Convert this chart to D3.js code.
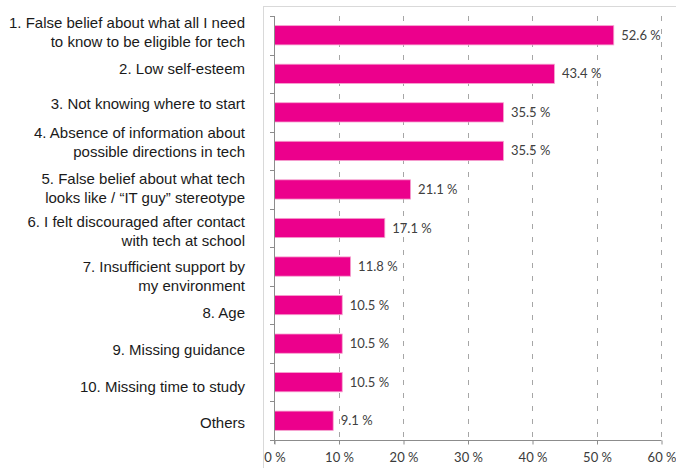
<!DOCTYPE html>
<html>
<head>
<meta charset="utf-8">
<script src="https://cdn.jsdelivr.net/npm/d3@7"></script>
<style>
  html, body { margin: 0; padding: 0; background: #fff; }
  svg { display: block; }
</style>
</head>
<body>
<svg id="chart" width="676" height="468"></svg>
<script>
// ---- data ----
const categories = [
  ["1. False belief about what all I need", "to know to be eligible for tech"],
  ["2. Low self-esteem"],
  ["3. Not knowing where to start"],
  ["4. Absence of information about", "possible directions in tech"],
  ["5. False belief about what tech", "looks like / \u201cIT guy\u201d stereotype"],
  ["6. I felt discouraged after contact", "with tech at school"],
  ["7. Insufficient support by", "my environment"],
  ["8. Age"],
  ["9. Missing guidance"],
  ["10. Missing time to study"],
  ["Others"]
];
const values = [52.6, 43.4, 35.5, 35.5, 21.1, 17.1, 11.8, 10.5, 10.5, 10.5, 9.1];
const xTicks = [0, 10, 20, 30, 40, 50, 60];
const xTickLabels = ["0 %", "10 %", "20 %", "30 %", "40 %", "50 %", "60 %"];

// ---- layout (not data) ----
const labelNudge = [-3, -5, -9, -9, -1, 3, 10, 8, 6, 4, 2];
const plotLeft = 274, plotRight = 661, plotTop = 16, plotBottom = 440;

const svg = d3.select("#chart");
const ids = categories.map((c, i) => i);

const x = d3.scaleLinear().domain([0, 60]).range([plotLeft, plotRight]);
const y = d3.scaleBand().domain(ids).range([plotTop, plotBottom]).paddingInner(0.5).paddingOuter(0.25);

// frame
svg.append("rect")
  .attr("x", 263.5).attr("y", 6.5).attr("width", 430).attr("height", 480)
  .attr("fill", "none").attr("stroke", "#d9d9d9").attr("stroke-width", 1);

// grid lines
svg.append("g").selectAll("line")
  .data(xTicks.filter(t => t > 0))
  .join("line")
  .attr("x1", d => Math.round(x(d)) + 0.5).attr("x2", d => Math.round(x(d)) + 0.5)
  .attr("y1", plotTop).attr("y2", plotBottom)
  .attr("stroke", "#a6a6a6").attr("stroke-width", 1)
  .attr("stroke-dasharray", "5,8");

// bars
svg.append("g").selectAll("rect")
  .data(values)
  .join("rect")
  .attr("x", x(0) + 0.5)
  .attr("y", (d, i) => y(i))
  .attr("width", d => x(d) - x(0))
  .attr("height", y.bandwidth())
  .attr("fill", "#EC008C")
  .attr("stroke", "#f5a3cf").attr("stroke-width", 0.8);

// value labels
svg.append("g").selectAll("text")
  .data(values)
  .join("text")
  .attr("x", d => x(d) + 8)
  .attr("y", (d, i) => y(i) + y.bandwidth() / 2)
  .attr("dy", "0.35em")
  .attr("font-family", "Lato, 'Open Sans', sans-serif")
  .attr("font-size", 13)
  .attr("fill", "#404040")
  .text(d => d.toFixed(1) + " %");

// y axis line and ticks
const axisColor = "#8c8c8c";
svg.append("line")
  .attr("x1", plotLeft + 0.5).attr("x2", plotLeft + 0.5)
  .attr("y1", plotTop).attr("y2", plotBottom + 4)
  .attr("stroke", axisColor).attr("stroke-width", 1);
svg.append("g").selectAll("line")
  .data(d3.range(categories.length + 1))
  .join("line")
  .attr("x1", plotLeft - 4).attr("x2", plotLeft + 0.5)
  .attr("y1", i => Math.round(plotTop + i * (plotBottom - plotTop) / categories.length) + 0.5)
  .attr("y2", i => Math.round(plotTop + i * (plotBottom - plotTop) / categories.length) + 0.5)
  .attr("stroke", axisColor).attr("stroke-width", 1);

// x axis
const xAxis = d3.axisBottom(x)
  .tickValues(xTicks)
  .tickFormat((d, i) => xTickLabels[i])
  .tickSize(4)
  .tickSizeOuter(0)
  .tickPadding(8);
const gx = svg.append("g")
  .attr("transform", `translate(0.5,${plotBottom + 0.5})`)
  .call(xAxis);
gx.select(".domain").attr("stroke", axisColor).attr("d", `M${plotLeft - 0.5},0H${plotRight}`);
gx.selectAll(".tick line").attr("stroke", axisColor);
gx.selectAll(".tick text")
  .attr("font-family", "Lato, 'Open Sans', sans-serif")
  .attr("font-size", 13)
  .attr("fill", "#3b3b3b");

// category labels
const lineH = 19;
const lab = svg.append("g").selectAll("text")
  .data(categories)
  .join("text")
  .attr("text-anchor", "end")
  .attr("font-family", "'Liberation Sans', Arial, sans-serif")
  .attr("font-size", 15)
  .attr("fill", "#1a1a1a")
  .attr("transform", (d, i) => `translate(245,${y(i) + y.bandwidth() / 2 + labelNudge[i]})`);
lab.each(function(lines) {
  const t = d3.select(this);
  const n = lines.length;
  lines.forEach((ln, j) => {
    t.append("tspan")
      .attr("x", 0)
      .attr("y", (j - (n - 1) / 2) * lineH)
      .attr("dy", "0.36em")
      .text(ln);
  });
});
</script>
</body>
</html>
